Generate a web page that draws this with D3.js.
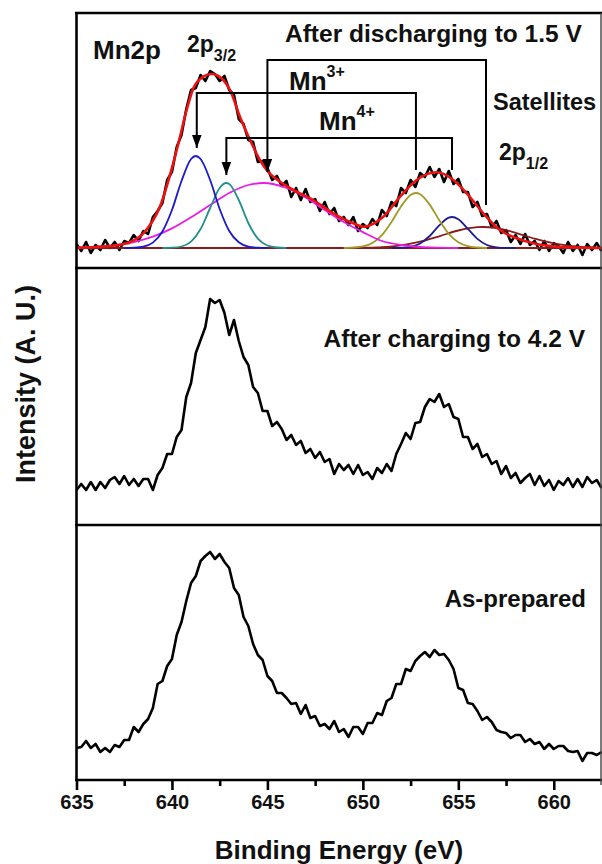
<!DOCTYPE html>
<html>
<head>
<meta charset="utf-8">
<script src="https://cdn.jsdelivr.net/npm/d3@7"></script>
<style>
body { margin: 0; background: #fff; }
svg text { font-family: "Liberation Sans", Arial, sans-serif; font-weight: bold; fill: #111; }
</style>
</head>
<body>
<div id="chart"></div>
<script>
var width = 602,
    height = 864;

// binding energy grid of the scans (eV)
var energyStart = 635,
    energyStep = 0.25,
    pointCount = 111;

// raw Mn2p counts (arb. units), one value per energy step
var dischargedCounts = [24, 17, 26, 15, 23, 18, 28, 20, 26, 18, 27, 25, 33, 27, 37, 34, 51, 57, 65, 88,
    96, 121, 133, 159, 178, 180, 193, 187, 197, 194, 187, 192, 178, 173, 149, 144, 128, 126, 106, 107,
    100, 88, 92, 82, 87, 71, 80, 68, 79, 66, 69, 57, 66, 54, 60, 47, 51, 43, 51, 37,
    44, 40, 49, 43, 58, 52, 66, 62, 80, 75, 88, 81, 95, 91, 101, 91, 99, 86, 97, 84,
    89, 76, 76, 61, 66, 52, 54, 41, 47, 35, 38, 26, 33, 24, 34, 23, 27, 18, 27, 17,
    25, 22, 15, 26, 17, 23, 13, 24, 18, 25, 17];

var chargedCounts = [35, 41, 35, 43, 35, 43, 37, 45, 48, 41, 49, 40, 46, 39, 46, 46, 35, 50, 57, 71,
    71, 88, 95, 128, 142, 172, 185, 198, 226, 222, 225, 212, 190, 205, 184, 168, 160, 138, 132, 114,
    114, 99, 103, 96, 85, 90, 80, 84, 72, 76, 67, 73, 63, 66, 51, 61, 55, 60, 51, 60,
    50, 53, 46, 57, 52, 61, 54, 71, 81, 92, 86, 102, 103, 118, 126, 123, 131, 118, 121, 108,
    106, 88, 88, 76, 81, 68, 71, 61, 64, 51, 59, 47, 52, 42, 47, 51, 40, 49, 39, 45,
    35, 44, 40, 47, 38, 46, 38, 48, 42, 45, 37];

var preparedCounts = [32, 33, 39, 32, 36, 28, 32, 28, 35, 33, 40, 40, 53, 48, 56, 61, 72, 96, 99, 114,
    121, 145, 158, 179, 197, 204, 219, 224, 228, 221, 226, 218, 212, 192, 185, 163, 154, 136, 125, 120,
    104, 99, 87, 87, 82, 76, 77, 66, 75, 62, 64, 54, 56, 51, 59, 48, 51, 43, 53, 53,
    46, 57, 57, 67, 65, 79, 82, 96, 96, 111, 109, 119, 124, 128, 123, 130, 125, 126, 120, 111,
    92, 90, 77, 76, 69, 60, 63, 58, 50, 48, 47, 42, 45, 45, 38, 41, 36, 38, 31, 36,
    31, 34, 34, 29, 28, 29, 19, 27, 27, 25, 28];

// fitted curves of the discharged spectrum, [eV, counts]
var fitBackground = [[635, 20], [662.5, 20]];
var fitEnvelope = [[635, 20.5], [636, 21], [637, 22.5], [637.63, 24.7], [638.5, 34.7], [639.37, 61.3],
    [640.25, 118], [640.77, 158], [641.12, 179.7], [641.64, 191.3], [642.08, 194], [642.69, 188],
    [643.04, 178], [643.56, 151.3], [644.09, 128], [644.61, 108], [644.96, 98], [645.66, 86.3],
    [646.36, 78], [647.4, 68], [648.45, 54.7], [649.5, 44.7], [650.02, 41.3], [651.07, 51.3],
    [651.95, 71.3], [652.82, 88], [653.87, 95.7], [654.74, 88], [655.44, 74.7], [656.31, 54.7],
    [657.18, 38], [658.06, 29.7], [658.93, 24.7], [660.68, 20.7], [662.5, 20]];
var mn3Main = [[637.5, 20], [638, 20.3], [638.5, 21.4], [639, 25.4], [639.5, 36.5], [640, 58],
    [640.5, 87], [641, 109], [641.25, 112], [641.5, 109], [642, 88], [642.5, 59], [643, 37],
    [643.5, 25.7], [644, 21.4], [644.5, 20.3], [645, 20]];
var mn4Main = [[639.5, 20], [640, 20.3], [640.5, 21.5], [641, 26.4], [641.5, 39], [642, 60],
    [642.5, 80], [642.83, 85], [643, 84], [643.5, 68], [644, 45], [644.5, 29.4], [645, 22.5],
    [645.5, 20.5], [646, 20]];
var satMain = [[635, 20.4], [636, 21.2], [637, 22.7], [638, 25.9], [639, 31.3], [640, 39.6],
    [641, 50.7], [642, 63], [643, 75], [644, 83], [644.8, 85], [646, 80], [647, 70.5], [648, 58],
    [649, 46], [650, 35.9], [651, 27], [652, 23], [653, 21], [654, 20.3], [655, 20]];
var mn3Half = [[649, 20], [649.5, 20.4], [650, 21.6], [650.5, 25.1], [651, 32.9], [651.5, 46],
    [652, 61.6], [652.5, 73], [652.78, 75], [653, 73.8], [653.5, 63.4], [654, 47.8], [654.5, 34.2],
    [655, 25.8], [655.5, 21.9], [656, 20.5], [656.5, 20]];
var mn4Half = [[651.5, 20], [652, 20.2], [652.5, 21.2], [653, 24.5], [653.5, 32], [654, 42.7],
    [654.5, 50.4], [654.67, 51], [655, 48.8], [655.5, 39.2], [656, 29.1], [656.5, 23], [657, 20.7],
    [657.5, 20.1], [658, 20]];
var satHalf = [[649, 20], [650, 20.3], [651, 20.9], [652, 22.7], [653, 26.3], [654, 31.7],
    [655, 37.5], [656, 40.8], [656.29, 41], [657, 39.9], [658, 35.2], [659, 29.3], [660, 24.6],
    [661, 21.8], [662, 20.6], [662.5, 20.3]];

// peak assignment brackets: left/right energies, bar level, foot levels
var bracketEnergies = [[645.0, 656.45], [641.3, 652.78], [642.85, 654.67]];
var bracketLevels = [[208, 96, 63], [175, 120, 98], [130, 93, 98]];

var majorTicks = [635, 640, 645, 650, 655, 660],
    minorTicks = [637.5, 642.5, 647.5, 652.5, 657.5];

var energy = d3.range(pointCount).map(function (i) { return energyStart + i * energyStep; });

var svg = d3.select("#chart")
    .append("svg")
    .attr("width", width)
    .attr("height", height);

svg.append("rect").attr("width", width).attr("height", height).attr("fill", "#fff");

var x = d3.scaleLinear()
    .domain([635, 662.5])
    .range([76.5, 601.5]);

var panels = [
    {top: 13, bottom: 268, counts: dischargedCounts},
    {top: 268, bottom: 525, counts: chargedCounts},
    {top: 525, bottom: 780, counts: preparedCounts}
];
panels.forEach(function (p) {
    p.y = d3.scaleLinear().domain([0, 255]).range([p.bottom, p.bottom - 255]);
});

// spectra
panels.forEach(function (p) {
    var line = d3.line()
        .x(function (d, i) { return x(energy[i]); })
        .y(function (d) { return p.y(d); });
    svg.append("path")
        .datum(p.counts)
        .attr("d", line)
        .attr("fill", "none")
        .attr("stroke", "#000")
        .attr("stroke-width", 2.6)
        .attr("stroke-linejoin", "round");
});

// fit of the top spectrum
var yTop = panels[0].y;
var fitLine = d3.line()
    .x(function (d) { return x(d[0]); })
    .y(function (d) { return yTop(d[1]); })
    .curve(d3.curveMonotoneX);

var fits = [
    {data: fitBackground, color: "#8b1a1a", w: 1.8},
    {data: satHalf, color: "#8b1a1a", w: 1.8},
    {data: mn4Half, color: "#1c1c8c", w: 1.8},
    {data: mn3Half, color: "#a09a28", w: 1.8},
    {data: satMain, color: "#e81ce8", w: 1.8},
    {data: mn4Main, color: "#23908c", w: 1.8},
    {data: mn3Main, color: "#1a1acc", w: 1.8},
    {data: fitEnvelope, color: "#ee1111", w: 2.6}
];
svg.selectAll("path.fit")
    .data(fits)
    .enter()
    .append("path")
    .attr("class", "fit")
    .attr("d", function (f) { return fitLine(f.data); })
    .attr("fill", "none")
    .attr("stroke", function (f) { return f.color; })
    .attr("stroke-width", function (f) { return f.w; });

// arrow brackets
svg.append("defs").append("marker")
    .attr("id", "head")
    .attr("viewBox", "0 -5 13 10")
    .attr("refX", 13)
    .attr("refY", 0)
    .attr("markerUnits", "userSpaceOnUse")
    .attr("markerWidth", 13)
    .attr("markerHeight", 10)
    .attr("orient", "auto")
    .append("path")
    .attr("d", "M0,-4.8L13,0L0,4.8Z")
    .attr("fill", "#000");

bracketEnergies.forEach(function (e, i) {
    var lv = bracketLevels[i];
    svg.append("path")
        .attr("d", "M" + x(e[1]) + "," + yTop(lv[2]) + "V" + yTop(lv[0]) +
            "H" + x(e[0]) + "V" + yTop(lv[1]))
        .attr("fill", "none")
        .attr("stroke", "#000")
        .attr("stroke-width", 2)
        .attr("marker-end", "url(#head)");
});

// frame
var frame = svg.append("g").attr("stroke", "#000").attr("stroke-width", 2.6);
frame.append("line").attr("x1", 76.5).attr("x2", 76.5).attr("y1", 12).attr("y2", 781);
[13, 268, 525, 780].forEach(function (yy) {
    frame.append("line").attr("x1", 75).attr("x2", 602).attr("y1", yy).attr("y2", yy);
});
svg.append("line").attr("x1", 601).attr("x2", 601).attr("y1", 13).attr("y2", 785)
    .attr("stroke", "#444").attr("stroke-width", 1.4);

// x axis ticks
var axis = svg.append("g").attr("transform", "translate(0,780)");
axis.call(d3.axisBottom(x).tickValues(majorTicks).tickSize(10).tickSizeOuter(0).tickPadding(5)
    .tickFormat(d3.format("d")));
axis.append("g").call(d3.axisBottom(x).tickValues(minorTicks).tickSize(6).tickSizeOuter(0)
    .tickFormat(""));
axis.selectAll(".domain").remove();
axis.selectAll("line").attr("stroke", "#000").attr("stroke-width", 2.6);
axis.selectAll("text")
    .attr("fill", "#111")
    .style("font-family", "'Liberation Sans', Arial, sans-serif")
    .style("font-weight", "bold")
    .style("font-size", "20px");

// axis titles
svg.append("text")
    .attr("x", 339)
    .attr("y", 859)
    .attr("text-anchor", "middle")
    .style("font-size", "26px")
    .text("Binding Energy (eV)");

svg.append("text")
    .attr("transform", "translate(35,384)rotate(-90)")
    .attr("text-anchor", "middle")
    .style("font-size", "27px")
    .text("Intensity (A. U.)");

// labels
function label(px, py, size, main, extra, shift, extraSize, anchor) {
    var t = svg.append("text")
        .attr("x", px)
        .attr("y", py)
        .attr("text-anchor", anchor || "start")
        .style("font-size", size + "px");
    t.append("tspan").text(main);
    if (extra) {
        t.append("tspan").attr("dy", shift).style("font-size", extraSize + "px").text(extra);
    }
}

label(93, 59, 26, "Mn2p");
label(187, 52, 23, "2p", "3/2", 9, 16);
label(285, 42, 24.5, "After discharging to 1.5 V");
label(289, 90, 26, "Mn", "3+", -13, 16);
label(319, 130, 26, "Mn", "4+", -13, 16);
label(493, 110, 23.5, "Satellites");
label(499, 160, 23, "2p", "1/2", 9, 16);
label(585, 347, 24.5, "After charging to 4.2 V", null, 0, 0, "end");
label(586, 607, 24, "As-prepared", null, 0, 0, "end");
</script>
</body>
</html>
